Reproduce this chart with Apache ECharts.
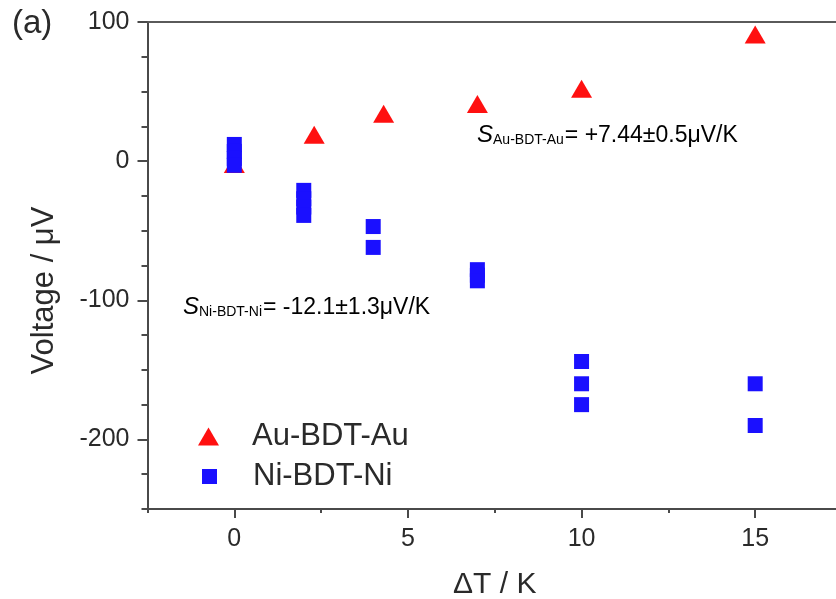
<!DOCTYPE html>
<html><head><meta charset="utf-8">
<script src="https://cdn.jsdelivr.net/npm/echarts@6/dist/echarts.min.js"></script>
<style>html,body{margin:0;padding:0;background:#fff;overflow:hidden}#c{width:836px;height:599px;overflow:hidden}</style>
</head><body><div id="c"></div>
<script>
const auName = 'Au-BDT-Au';
const niName = 'Ni-BDT-Ni';
const auX = [0, 2.3, 4.3, 7, 10, 15];
const auY = [-2, 19, 34, 41, 52, 91];
const niX = [0, 0, 0, 0, 2, 2, 2, 2, 4, 4, 7, 7, 7, 10, 10, 10, 15, 15];
const niY = [12, 7, 2, -3, -21, -27, -33, -39, -47, -62, -78, -82, -86, -144, -160, -175, -160, -190];
const xMajorTicks = [0, 5, 10, 15];
const xMinorTicks = [-2.5, 2.5, 7.5, 12.5];
const yMajorTicks = [-200, -100, 0, 100];
const yMinorTicks = [-250, -225, -175, -150, -125, -75, -50, -25, 25, 50, 75];
const xRange = [-2.5, 17.5];
const yRange = [-250, 100];
const xTitle = 'ΔT / K';
const yTitle = 'Voltage / μV';
const panelLabel = '(a)';
const auNote = ['S', 'Au-BDT-Au', '= +7.44±0.5μV/K'];
const niNote = ['S', 'Ni-BDT-Ni', '= -12.1±1.3μV/K'];

const FONT = 'Liberation Sans, Arial, sans-serif';
const AX = '#4a4a4a';
const TXT = '#2a2a2a';
const gridPos = {left: 147.5, top: 22, right: -6, bottom: 90, outerBoundsMode: 'none', containLabel: false};

const chart = echarts.init(document.getElementById('c'), null, {renderer: 'canvas'});

const richNote = {
  s: {fontFamily: FONT, fontSize: 24, fontStyle: 'italic', color: TXT, lineHeight: 34, verticalAlign: 'bottom'},
  sub: {fontFamily: FONT, fontSize: 14, color: '#555', lineHeight: 13, verticalAlign: 'bottom', padding: [0, 1, 0, 0]},
  t: {fontFamily: FONT, fontSize: 23, color: TXT, lineHeight: 34, verticalAlign: 'bottom'}
};
function noteText(n) { return '{s|' + n[0] + '}{sub|' + n[1] + '}{t|' + n[2] + '}'; }

chart.setOption({
  animation: false,
  backgroundColor: '#fff',
  grid: [
    Object.assign({show: false}, gridPos),
    Object.assign({show: false}, gridPos)
  ],
  xAxis: [{
    type: 'value', gridIndex: 0, min: xRange[0], max: xRange[1], position: 'bottom',
    name: xTitle, nameLocation: 'middle', nameGap: 61,
    nameTextStyle: {fontFamily: FONT, fontSize: 30, color: TXT},
    axisLine: {show: true, onZero: false, lineStyle: {color: AX, width: 2}},
    axisTick: {show: true, inside: false, length: 9, customValues: xMajorTicks, lineStyle: {color: AX, width: 2}},
    axisLabel: {show: true, customValues: xMajorTicks, margin: 18, fontFamily: FONT, fontSize: 25, color: TXT},
    splitLine: {show: false}
  }, {
    type: 'value', gridIndex: 1, min: xRange[0], max: xRange[1], position: 'bottom',
    axisLine: {show: false, onZero: false},
    axisTick: {show: true, inside: false, length: 4, customValues: xMinorTicks, lineStyle: {color: AX, width: 2}},
    axisLabel: {show: false},
    splitLine: {show: false}
  }, {
    type: 'value', gridIndex: 0, min: xRange[0], max: xRange[1], position: 'top',
    axisLine: {show: true, onZero: false, lineStyle: {color: '#5a5a5a', width: 2}},
    axisTick: {show: false},
    axisLabel: {show: false},
    splitLine: {show: false}
  }],
  yAxis: [{
    type: 'value', gridIndex: 0, min: yRange[0], max: yRange[1], position: 'left',
    name: yTitle, nameLocation: 'middle', nameGap: 88,
    nameTextStyle: {fontFamily: FONT, fontSize: 31, color: TXT, padding: [0, 50, 0, 0]},
    axisLine: {show: true, onZero: false, lineStyle: {color: AX, width: 2}},
    axisTick: {show: true, inside: false, length: 10, customValues: yMajorTicks, lineStyle: {color: AX, width: 2}},
    axisLabel: {show: true, customValues: yMajorTicks, margin: 18, fontFamily: FONT, fontSize: 25, color: TXT},
    splitLine: {show: false}
  }, {
    type: 'value', gridIndex: 1, min: yRange[0], max: yRange[1], position: 'left',
    axisLine: {show: false, onZero: false},
    axisTick: {show: true, inside: false, length: 6, customValues: yMinorTicks, lineStyle: {color: AX, width: 2}},
    axisLabel: {show: false},
    splitLine: {show: false}
  }],
  legend: [{
    data: [auName], orient: 'vertical', left: 198, top: 421, padding: 0,
    icon: 'triangle', itemWidth: 21, itemHeight: 18,
    textStyle: {fontFamily: FONT, fontSize: 31, color: TXT, padding: [0, 0, 0, 28]}
  }, {
    data: [niName], orient: 'vertical', left: 202, top: 461, padding: 0,
    icon: 'rect', itemWidth: 15, itemHeight: 15,
    textStyle: {fontFamily: FONT, fontSize: 31, color: TXT, padding: [0, 0, 0, 31]}
  }],
  series: [{
    name: auName, type: 'scatter', xAxisIndex: 0, yAxisIndex: 0,
    symbol: 'triangle', symbolSize: [21, 18],
    itemStyle: {color: '#ff1010', opacity: 1},
    data: auX.map((x, i) => [x, auY[i]])
  }, {
    name: niName, type: 'scatter', xAxisIndex: 0, yAxisIndex: 0,
    symbol: 'rect', symbolSize: 15,
    itemStyle: {color: '#1a10ff', opacity: 1},
    data: niX.map((x, i) => [x, niY[i]])
  }],
  graphic: [
    {type: 'text', left: 12, top: 7, style: {text: panelLabel, fontFamily: FONT, fontSize: 33, fill: TXT}},
    {type: 'text', x: 477, y: 147, style: {text: noteText(auNote), rich: richNote, verticalAlign: 'bottom'}},
    {type: 'text', x: 183, y: 319, style: {text: noteText(niNote), rich: richNote, verticalAlign: 'bottom'}}
  ]
});
</script>
</body></html>
